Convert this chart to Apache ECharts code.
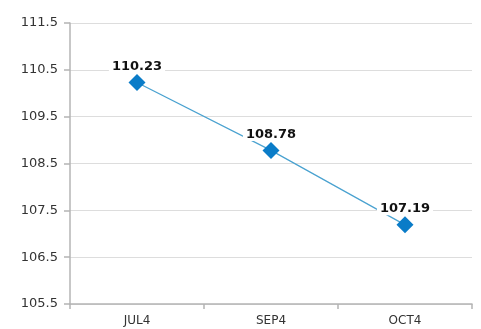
<!DOCTYPE html>
<html>
<head>
<meta charset="utf-8">
<script src="https://cdn.jsdelivr.net/npm/echarts@6/dist/echarts.min.js"></script>
<style>
  html, body { margin: 0; padding: 0; background: #fff; }
  #chart { width: 481px; height: 329px; }
</style>
</head>
<body>
<div id="chart"></div>
<script>
// Contract months and their settlement values
const categories = ['JUL4', 'SEP4', 'OCT4'];
const values = [110.23, 108.78, 107.19];
const yMin = 105.5;
const yMax = 111.5;
const yStep = 1;

const chart = echarts.init(document.getElementById('chart'));
chart.setOption({
  animation: false,
  backgroundColor: '#ffffff',
  grid: { left: 70, right: 9, top: 23, bottom: 25 },
  xAxis: {
    type: 'category',
    data: categories,
    boundaryGap: true,
    axisLine: { lineStyle: { color: '#b4b4b4', width: 1.5 } },
    axisTick: { show: true, length: 5, lineStyle: { color: '#b4b4b4', width: 1.5 } },
    axisLabel: { color: '#333333', fontFamily: 'DejaVu Sans', fontSize: 12, margin: 11 },
    splitLine: { show: false }
  },
  yAxis: {
    type: 'value',
    min: yMin,
    max: yMax,
    interval: yStep,
    axisLine: { show: true, lineStyle: { color: '#b4b4b4', width: 1.5 } },
    axisTick: { show: true, length: 6, lineStyle: { color: '#b4b4b4', width: 1.5 } },
    axisLabel: {
      color: '#333333', fontFamily: 'DejaVu Sans', fontSize: 13, margin: 12,
      formatter: v => v.toFixed(1)
    },
    splitLine: { show: true, lineStyle: { color: '#dddddd', width: 1 } }
  },
  series: [{
    type: 'line',
    data: values,
    symbol: 'diamond',
    symbolSize: 17,
    itemStyle: { color: '#0a7cc8' },
    lineStyle: { color: '#4aa2d0', width: 1.2 },
    label: {
      show: true,
      position: 'top',
      distance: 1,
      color: '#111111',
      fontFamily: 'DejaVu Sans',
      fontWeight: 'bold',
      fontSize: 13,
      backgroundColor: '#ffffff',
      padding: [0, 3],
      formatter: p => p.value.toFixed(2)
    }
  }]
});
</script>
</body>
</html>
